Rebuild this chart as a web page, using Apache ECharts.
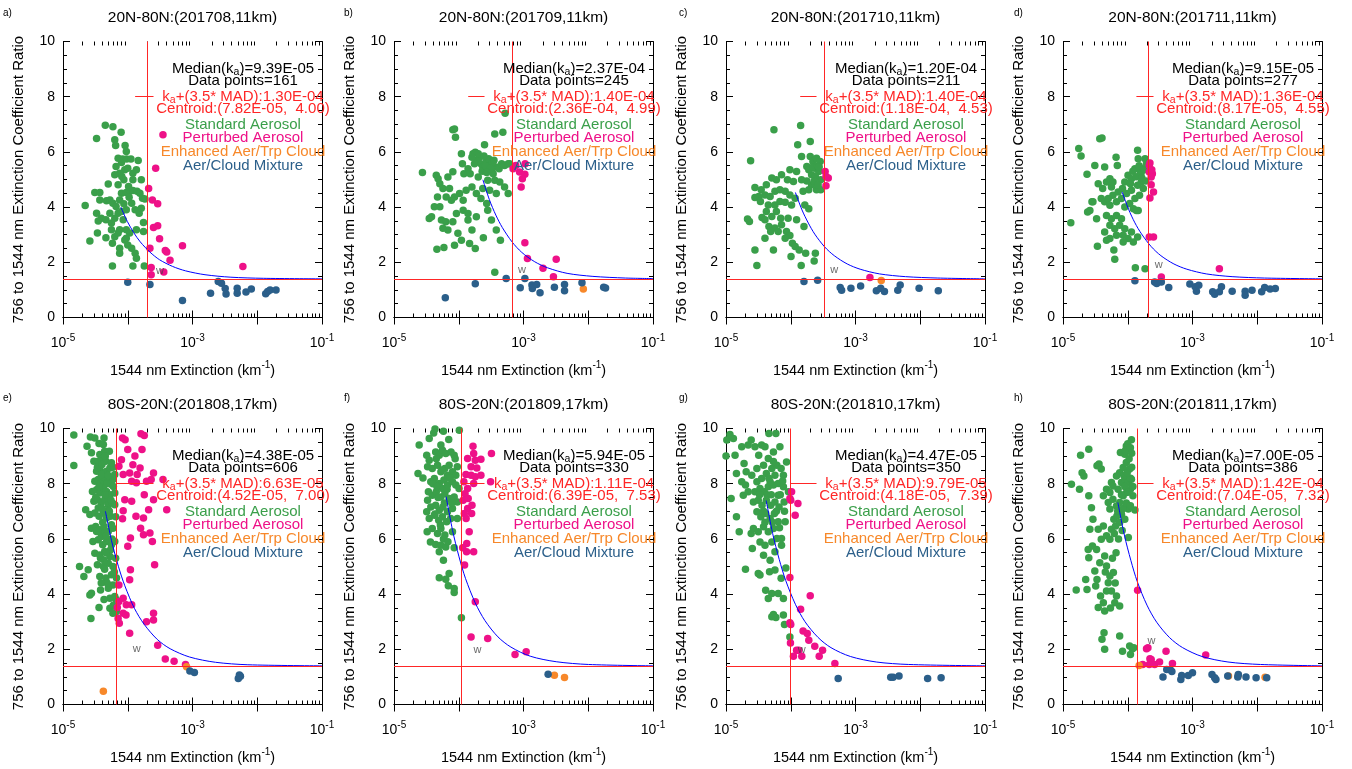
<!DOCTYPE html>
<html>
<head>
<meta charset="utf-8">
<script src="https://cdn.jsdelivr.net/npm/echarts@6/dist/echarts.min.js"></script>
<style>
  html, body { margin: 0; padding: 0; background: #fff; }
  #chart { width: 1352px; height: 769px; }
</style>
</head>
<body>
<div id="chart"></div>
<script>
// ---- panel texts ----
const panelLetters = ['a)', 'b)', 'c)', 'd)', 'e)', 'f)', 'g)', 'h)']
const titles = [
  '20N-80N:(201708,11km)', '20N-80N:(201709,11km)', '20N-80N:(201710,11km)', '20N-80N:(201711,11km)',
  '80S-20N:(201808,17km)', '80S-20N:(201809,17km)', '80S-20N:(201810,17km)', '80S-20N:(201811,17km)'
]
const medianTexts = ['9.39E-05', '2.37E-04', '1.20E-04', '9.15E-05', '4.38E-05', '5.94E-05', '4.47E-05', '7.00E-05']
const dataCounts = [161, 245, 211, 277, 606, 330, 350, 386]
const madTexts = ['1.30E-04', '1.40E-04', '1.40E-04', '1.36E-04', '6.63E-05', '1.11E-04', '9.79E-05', '1.42E-04']
const centroidX = ['7.82E-05', '2.36E-04', '1.18E-04', '8.17E-05', '4.52E-05', '6.39E-05', '4.18E-05', '7.04E-05']
const centroidY = ['4.00', '4.99', '4.53', '4.55', '7.00', '7.53', '7.39', '7.32']
const classNames = ['Standard Aerosol', 'Perturbed Aerosol', 'Enhanced Aer/Trp Cloud', 'Aer/Cloud Mixture']

// ---- reference lines ----
const kaValues = [1.30e-4, 1.40e-4, 1.40e-4, 1.36e-4, 6.63e-5, 1.11e-4, 9.79e-5, 1.42e-4]
const vLineX = [2.0e-4, 6.6e-4, 3.3e-4, 2.07e-4, 6.63e-5, 1.11e-4, 9.79e-5, 1.42e-4]
const hLineY = 1.4
const kaSegEnd = 2.5e-4
const kaSegY = 8
const wMarks = [[3.14e-4, 1.67], [9.5e-4, 1.74], [4.7e-4, 1.73], [3.0e-4, 1.89],
  [1.37e-4, 2.0], [1.95e-4, 1.99], [1.48e-4, 1.99], [2.33e-4, 2.30]]

// ---- axis ticks ----
const xMajorTicks = [1e-5, 1e-4, 1e-3, 1e-2, 1e-1]
const xLabelTicks = [1e-5, 1e-3, 1e-1]
const xMinorTicks = [2e-5, 3e-5, 4e-5, 5e-5, 6e-5, 7e-5, 8e-5, 9e-5,
  2e-4, 3e-4, 4e-4, 5e-4, 6e-4, 7e-4, 8e-4, 9e-4,
  2e-3, 3e-3, 4e-3, 5e-3, 6e-3, 7e-3, 8e-3, 9e-3,
  2e-2, 3e-2, 4e-2, 5e-2, 6e-2, 7e-2, 8e-2, 9e-2]

// ---- panel a ----
const stdA = [[4.5e-5,6.97],[5.9e-5,6.91],[3.3e-5,6.49],[6.3e-5,6.44],[7.9e-5,6.71],[6.5e-5,6.23],[9.1e-5,6.23],
  [7.1e-5,5.77],[8.0e-5,5.62],[8.3e-5,5.74],[9.6e-5,5.74],[1.12e-4,5.74],[1.45e-4,5.69],[6.6e-5,5.47],[9.0e-5,5.35],
  [1.0e-4,5.41],[1.2e-4,5.23],[1.36e-4,5.35],[1.62e-4,4.99],[5.0e-5,4.84],[7.1e-5,4.81],[8.7e-5,4.99],[1.2e-4,4.99],
  [7.5e-5,5.23],[8.0e-5,4.50],[9.5e-5,4.53],[1.07e-4,4.57],[1.2e-4,4.60],[1.39e-4,4.57],[1.54e-4,4.50],[1.69e-4,4.32],
  [1.84e-4,4.29],[3.1e-5,4.53],[3.7e-5,4.53],[2.2e-5,4.06],[3.7e-5,4.26],[4.7e-5,4.23],[5.3e-5,4.26],[5.9e-5,4.14],
  [6.6e-5,4.02],[7.1e-5,3.78],[8.0e-5,3.84],[9.5e-5,3.90],[1.15e-4,4.14],[1.3e-4,3.90],[1.5e-4,3.78],[1.62e-4,3.96],
  [3.3e-5,3.78],[3.9e-5,3.60],[3.5e-5,3.50],[4.6e-5,3.54],[5.6e-5,3.42],[6.3e-5,3.60],[8.5e-5,3.54],[7.5e-5,3.18],
  [5.6e-5,3.18],[6.3e-5,2.93],[9.5e-5,3.18],[1.07e-4,3.06],[1.36e-4,3.18],[1.75e-4,3.44],[1.75e-4,3.12],[2.6e-5,2.77],
  [3.4e-5,3.06],[4.6e-5,2.89],[5.8e-5,2.69],[7.5e-5,2.51],[9.0e-5,2.81],[1.0e-4,2.63],[1.15e-4,2.51],[1.3e-4,2.33],
  [1.36e-4,2.15],[7.5e-5,2.33],[5.8e-5,1.87],[1.2e-4,1.87],[1.8e-4,1.87],[9.5e-5,2.87],[7.1e-5,3.06],[5.3e-5,3.78],
  [8.7e-5,4.12],[7.5e-5,4.26],[1.05e-4,4.36],[1.03e-4,4.75],[8.1e-5,5.11],[6.3e-5,5.17],[9.5e-5,6.01]]
const pertA = [[3.5e-4,6.62],[2.7e-4,5.41],[2.1e-4,4.67],[2.4e-4,4.26],[2.9e-4,4.12],[2.5e-4,3.26],[2.9e-4,3.32],
  [3.1e-4,2.85],[2.2e-4,2.51],[3.8e-4,2.43],[4.0e-4,2.37],[4.5e-4,2.07],[7.0e-4,2.60],[2.3e-4,1.81],[2.3e-4,1.55],
  [3.6e-4,1.65],[6.0e-3,1.85]]
const enhA = []
const mixA = [[1.0e-4,1.28],[2.2e-4,1.20],[7.0e-4,0.62],[1.9e-3,0.88],[2.5e-3,1.30],[2.8e-3,1.24],[3.2e-3,1.05],
  [3.3e-3,0.85],[4.9e-3,1.06],[4.9e-3,0.88],[6.7e-3,0.92],[8.1e-3,1.03],[1.35e-2,0.86],[1.45e-2,0.94],[1.58e-2,1.00],
  [1.95e-2,1.00]]
const curveA = [[7.82e-5,4.00],[9.85e-5,3.48],[1.24e-4,3.07],[1.56e-4,2.74],[2.20e-4,2.37],[3.11e-4,2.09],[4.93e-4,1.85],
  [7.82e-4,1.69],[1.56e-3,1.55],[3.92e-3,1.46],[1.24e-2,1.42],[1e-1,1.40]]

// ---- panel b ----
const stdB = [[2.75e-5,5.25],[4.5e-5,5.15],[4.8e-5,5.03],[5.1e-5,4.85],[4.7e-5,4.37],[5.7e-5,4.67],[7.2e-5,4.67],
  [6.8e-5,5.09],[8.1e-5,5.28],[8.1e-5,6.80],[8.6e-5,6.83],[8.9e-5,6.53],[1.1e-4,5.93],[1.14e-4,5.57],[1.2e-4,5.21],
  [1.66e-4,5.93],[1.75e-4,5.57],[1.87e-4,5.69],[2.1e-4,5.81],[2.2e-4,5.57],[2.35e-4,5.45],[2.5e-4,6.26],[2.7e-4,5.69],
  [3.0e-4,5.57],[3.2e-4,5.33],[3.4e-4,5.21],[3.8e-4,5.45],[4.2e-4,5.39],[4.6e-4,5.57],[5.1e-4,5.51],[5.8e-4,5.57],
  [6.1e-4,5.57],[3.6e-4,6.65],[4.8e-4,6.71],[5.2e-4,7.40],[1.8e-4,5.99],[2.0e-4,5.93],[1.6e-4,5.81],[1.39e-4,5.39],
  [1.5e-4,5.21],[2.0e-4,5.09],[2.8e-4,4.97],[3.6e-4,4.97],[4.3e-4,4.91],[5.1e-4,4.73],[5.8e-4,4.49],[3.8e-4,4.49],
  [3.0e-4,4.61],[2.35e-4,4.67],[1.87e-4,4.49],[1.6e-4,4.73],[1.3e-4,4.61],[1.03e-4,4.49],[8.6e-5,4.37],[1.17e-4,4.25],
  [7.7e-5,4.25],[6.4e-5,4.37],[5.1e-5,4.01],[4.2e-5,4.01],[3.5e-5,3.59],[3.8e-5,3.65],[5.4e-5,3.53],[6.3e-5,3.47],
  [8.1e-5,3.47],[9.2e-5,3.77],[1.17e-4,3.89],[1.39e-4,3.77],[1.87e-4,3.65],[2.8e-4,3.89],[3.2e-4,3.53],[3.8e-4,3.17],
  [6.8e-5,3.17],[5.7e-5,3.23],[9.7e-5,3.05],[1.39e-4,3.53],[1.6e-4,3.17],[8.6e-5,2.62],[1.1e-4,2.80],[1.47e-4,2.68],
  [4.6e-5,2.47],[5.9e-5,2.54],[1.8e-4,2.50],[2.4e-4,2.89],[4.4e-4,2.80],[3.6e-4,1.64],[2.2e-4,4.31],[2.7e-4,4.13],
  [2.3e-4,5.30],[2.6e-4,5.50],[2.9e-4,5.75],[3.3e-4,5.60],[2.45e-4,5.85],[3.1e-4,5.40],[2.7e-4,5.25],[3.5e-4,5.70]]
const pertB = [[6.9e-4,5.39],[7.6e-4,5.51],[8.7e-4,5.27],[9.6e-4,5.03],[1.05e-3,5.19],[9.2e-4,4.73],[1.06e-3,5.57],
  [1.05e-3,2.71],[1.15e-3,2.14],[2.0e-3,1.78],[2.9e-3,1.48],[3.2e-3,2.11]]
const enhB = [[8.4e-3,1.03]]
const mixB = [[6.2e-5,0.72],[1.8e-4,1.22],[5.4e-4,1.41],[8.9e-4,1.08],[1.05e-3,1.41],[1.35e-3,1.18],[1.37e-3,1.05],
  [1.6e-3,1.20],[1.8e-3,0.90],[3.0e-3,1.10],[4.3e-3,1.20],[4.3e-3,0.97],[8.0e-3,1.26],[1.73e-2,1.10],[1.85e-2,1.07]]
const curveB = [[2.36e-4,4.99],[2.97e-4,4.27],[3.74e-4,3.71],[4.71e-4,3.26],[6.65e-4,2.74],[9.40e-4,2.36],[1.49e-3,2.02],
  [2.36e-3,1.80],[4.71e-3,1.60],[1.18e-2,1.49],[3.74e-2,1.43],[1e-1,1.41]]

// ---- panel c ----
const stdC = [[2.4e-5,5.68],[2.8e-5,4.71],[2.15e-5,3.57],[2.3e-5,3.48],[2.8e-5,2.45],[3.0e-5,1.88],[5.5e-5,6.80],
  [1.42e-4,6.96],[1.28e-4,6.26],[2.0e-4,6.38],[1.47e-4,5.83],[2.0e-4,5.83],[2.2e-4,5.65],[2.5e-4,5.77],[2.37e-4,5.41],
  [2.7e-4,5.29],[2.1e-4,5.17],[1.77e-4,5.47],[1.9e-4,5.35],[2.85e-4,5.65],[2.9e-4,4.99],[2.9e-4,4.63],[2.5e-4,4.63],
  [2.1e-4,4.81],[1.77e-4,4.95],[1.47e-4,4.99],[1.23e-4,5.29],[9.7e-5,5.35],[8.9e-5,4.99],[7.2e-5,5.17],[6.0e-5,4.99],
  [5.1e-5,5.05],[4.2e-5,4.81],[3.5e-5,4.63],[4.0e-5,4.44],[3.2e-5,4.38],[2.8e-5,4.35],[4.8e-5,4.38],[5.7e-5,4.57],
  [6.8e-5,4.63],[8.2e-5,4.57],[9.7e-5,4.44],[1.17e-4,4.32],[1.55e-4,4.57],[1.9e-4,4.63],[3.4e-5,4.20],[4.5e-5,4.08],
  [5.7e-5,4.08],[6.8e-5,4.20],[8.2e-5,4.18],[1.03e-4,4.08],[6.0e-5,3.84],[4.2e-5,3.84],[3.6e-5,3.62],[5.1e-5,3.66],
  [7.0e-5,3.60],[9.1e-5,3.60],[1.23e-4,3.54],[4.6e-5,3.30],[5.7e-5,3.24],[7.2e-5,3.36],[8.6e-5,3.12],[9.7e-5,2.97],
  [6.4e-5,3.12],[4.0e-5,2.87],[4.9e-5,3.12],[8.2e-5,2.87],[1.06e-4,2.69],[1.17e-4,2.57],[1.35e-4,2.45],[1.01e-4,2.21],
  [1.6e-4,3.30],[1.9e-4,3.94],[1.7e-4,2.33],[2.3e-4,2.05],[2.4e-4,2.33],[1.45e-4,1.88],[5.4e-5,2.45],[4.0e-5,3.54],
  [1.1e-4,4.93],[1.65e-4,4.08],[2.2e-4,5.45],[2.6e-4,5.50],[2.4e-4,5.10],[2.75e-4,5.45],[2.3e-4,4.95],[2.65e-4,4.80]]
const pertC = [[3.4e-4,5.29],[3.5e-4,5.11],[3.5e-4,4.77],[3.8e-4,5.05],[1.67e-3,1.45]]
const enhC = [[2.5e-3,1.34]]
const mixC = [[1.6e-4,1.30],[2.6e-4,1.35],[5.8e-4,1.09],[6.1e-4,0.99],[8.5e-4,1.06],[1.2e-3,1.14],[2.1e-3,0.97],
  [2.45e-3,1.06],[2.8e-3,0.94],[4.5e-3,0.99],[4.9e-3,1.18],[9.6e-3,1.06],[1.9e-2,0.97]]
const curveC = [[1.18e-4,4.53],[1.49e-4,3.90],[1.87e-4,3.42],[2.35e-4,3.02],[3.33e-4,2.56],[4.70e-4,2.24],[7.45e-4,1.94],
  [1.18e-3,1.75],[2.35e-3,1.58],[5.91e-3,1.48],[1.87e-2,1.43],[1e-1,1.40]]

// ---- panel d ----
const stdD = [[1.32e-5,3.43],[1.75e-5,6.12],[1.9e-5,5.85],[2.35e-5,5.19],[2.4e-5,3.82],[2.6e-5,3.88],[2.8e-5,4.19],
  [3.3e-5,3.58],[3.4e-5,2.58],[3.7e-5,6.48],[4.0e-5,6.50],[3.5e-5,4.85],[4.1e-5,4.67],[4.4e-5,5.45],[4.7e-5,4.91],
  [5.3e-5,5.03],[5.6e-5,4.73],[5.9e-5,4.91],[6.6e-5,5.81],[6.9e-5,5.51],[3.9e-5,4.31],[4.4e-5,4.19],[5.0e-5,4.31],
  [5.9e-5,4.43],[7.1e-5,4.55],[8.3e-5,4.67],[9.0e-5,4.91],[1.01e-4,5.15],[1.14e-4,5.03],[1.29e-4,5.39],[1.42e-4,6.06],
  [1.45e-4,5.75],[1.58e-4,5.27],[1.74e-4,5.39],[1.85e-4,5.75],[1.62e-4,4.91],[1.42e-4,4.79],[1.14e-4,4.61],[9.6e-5,4.49],
  [8.0e-5,4.31],[6.7e-5,4.19],[5.3e-5,4.07],[9.0e-5,4.00],[1.07e-4,4.13],[1.29e-4,4.31],[1.52e-4,4.43],[1.74e-4,4.67],
  [1.22e-4,3.94],[1.45e-4,3.88],[4.7e-5,3.70],[5.6e-5,3.58],[6.7e-5,3.70],[8.0e-5,3.58],[5.3e-5,3.34],[6.3e-5,3.22],
  [7.5e-5,3.34],[9.0e-5,3.22],[4.4e-5,3.10],[5.3e-5,2.86],[4.7e-5,2.80],[6.7e-5,2.98],[8.5e-5,2.98],[1.01e-4,2.86],
  [1.14e-4,3.10],[1.22e-4,2.74],[1.42e-4,2.92],[8.5e-5,2.74],[6.1e-5,2.45],[6.3e-5,2.11],[1.31e-4,1.80],[1.85e-4,1.77],
  [1.36e-4,3.88],[1.6e-4,5.21],[3.1e-5,5.51],[2.9e-5,4.19],[1.2e-4,5.30],[1.35e-4,5.10],[1.5e-4,5.50],[1.65e-4,5.05],
  [1.8e-4,5.35],[1.95e-4,5.60],[1.1e-4,4.85],[1.9e-4,4.95]]
const pertD = [[2.15e-4,5.51],[2.15e-4,5.27],[2.4e-4,5.21],[2.3e-4,5.09],[2.3e-4,4.81],[2.2e-4,4.33],[2.5e-4,4.55],
  [2.15e-4,2.92],[2.5e-4,2.92],[3.3e-4,1.47],[2.6e-3,1.77],[2.2e-4,5.60],[2.35e-4,5.35]]
const enhD = []
const mixD = [[1.29e-4,1.33],[2.6e-4,1.29],[2.8e-4,1.23],[3.3e-4,1.29],[4.3e-4,1.09],[9.1e-4,1.21],[1.1e-3,1.11],
  [1.15e-3,0.95],[1.25e-3,1.17],[2.05e-3,0.93],[2.2e-3,0.84],[2.6e-3,0.93],[2.8e-3,1.11],[4.1e-3,0.95],[6.5e-3,0.95],
  [6.5e-3,0.81],[8.3e-3,0.99],[1.17e-2,0.93],[1.3e-2,1.09],[1.58e-2,1.03],[1.9e-2,1.05]]
const curveD = [[8.17e-5,4.55],[1.03e-4,3.92],[1.29e-4,3.43],[1.63e-4,3.03],[2.30e-4,2.57],[3.25e-4,2.24],[5.16e-4,1.94],
  [8.17e-4,1.75],[1.63e-3,1.58],[4.09e-3,1.48],[1.29e-2,1.43],[1e-1,1.40]]

// ---- panel e ----
const stdE = [[1.47e-5,9.76],[1.47e-5,8.66],[1.8e-5,5.00],[2.1e-5,4.64],[2.45e-5,4.88],[2.24e-5,7.06],[2.65e-5,9.69],
  [2.35e-5,9.36],[2.75e-5,9.12],[3.1e-5,9.66],[3.6e-5,9.46],[4.3e-5,9.66],[3.0e-5,8.81],[3.7e-5,9.06],[4.2e-5,8.93],
  [4.6e-5,8.81],[3.3e-5,8.45],[3.7e-5,8.57],[4.2e-5,8.39],[4.7e-5,8.45],[5.3e-5,8.57],[5.9e-5,8.60],[3.1e-5,8.09],
  [3.5e-5,8.15],[3.9e-5,8.03],[4.4e-5,8.21],[5.0e-5,8.09],[5.6e-5,7.97],[5.9e-5,8.15],[2.85e-5,7.72],[3.3e-5,7.78],
  [3.7e-5,7.66],[4.2e-5,7.85],[4.7e-5,7.72],[5.3e-5,7.60],[6.3e-5,7.66],[3.0e-5,7.36],[3.4e-5,7.42],[3.9e-5,7.30],
  [4.4e-5,7.42],[5.0e-5,7.24],[5.8e-5,7.30],[2.6e-5,6.88],[3.1e-5,6.94],[3.6e-5,6.82],[4.2e-5,6.94],[4.7e-5,6.76],
  [5.4e-5,6.82],[2.75e-5,6.39],[3.2e-5,6.45],[3.7e-5,6.33],[4.3e-5,6.45],[5.0e-5,6.27],[5.9e-5,6.39],[2.9e-5,5.91],
  [3.5e-5,5.97],[4.1e-5,5.79],[4.7e-5,5.91],[5.6e-5,5.79],[3.1e-5,5.48],[3.7e-5,5.42],[4.4e-5,5.54],[5.3e-5,5.36],
  [3.4e-5,5.06],[4.2e-5,5.00],[5.0e-5,5.12],[5.9e-5,5.00],[3.7e-5,4.64],[4.6e-5,4.58],[5.6e-5,4.70],[2.75e-5,4.03],
  [2.6e-5,3.97],[3.8e-5,4.15],[5.0e-5,4.21],[5.9e-5,4.33],[5.3e-5,3.85],[6.3e-5,3.91],[3.6e-5,3.51],[5.3e-5,3.49],
  [5.9e-5,3.31],[6.7e-5,3.37],[2.7e-5,3.12],[4.2e-5,9.42],[5.2e-5,9.18],[5.6e-5,8.76],[6.3e-5,8.33],[6.3e-5,7.24],
  [6.3e-5,5.91],[6.5e-5,5.30],[6.7e-5,4.58],[3.9e-5,6.09],[4.4e-5,6.27],[3.3e-5,6.27],[3.5e-5,7.12],[3.9e-5,8.33],
  [3.5e-5,8.81],[4.4e-5,9.18],[4.8e-5,4.40],[4.3e-5,5.24],[5.0e-5,5.97],[5.6e-5,6.51],[5.0e-5,7.06],
  [3.2e-5,7.50],[3.6e-5,7.90],[4.0e-5,7.10],[4.5e-5,7.60],[4.8e-5,8.00],[5.2e-5,7.00],[5.5e-5,7.40],[4.1e-5,6.60],
  [4.6e-5,6.10],[5.4e-5,5.60],[3.8e-5,5.30],[4.6e-5,5.50],[5.7e-5,6.00],[3.4e-5,8.60],[4.0e-5,8.70],[4.5e-5,9.00],
  [5.0e-5,8.30],[6.0e-5,7.90],[6.5e-5,6.80],[6.2e-5,4.80],[6.6e-5,3.80],[6.0e-5,3.60],[4.3e-5,3.80],[3.9e-5,4.40],
  [4.4e-5,4.90]]
const pertE = [[8.3e-5,9.66],[9.1e-5,9.59],[1.6e-4,9.81],[1.8e-4,9.75],[1.0e-4,9.24],[7.3e-5,8.63],[8.0e-5,8.87],
  [1.29e-4,9.00],[1.66e-4,9.24],[1.2e-4,8.69],[1.55e-4,8.57],[8.5e-5,8.33],[1.07e-4,8.39],[1.4e-4,8.33],[2.5e-4,8.39],
  [2.3e-4,8.15],[1.95e-4,8.09],[1.15e-4,8.09],[1.36e-4,8.03],[3.5e-4,8.15],[1.8e-4,7.60],[2.5e-4,7.42],[4.0e-4,7.06],
  [9.0e-5,7.42],[8.5e-5,7.02],[1.15e-4,7.36],[8.3e-5,6.73],[1.34e-4,6.82],[1.75e-4,6.76],[2.1e-4,7.06],[1.58e-4,6.39],
  [1.75e-4,6.15],[2.2e-4,6.21],[2.4e-4,5.91],[1.1e-4,6.03],[1.0e-4,5.73],[1.1e-4,4.88],[1.07e-4,4.52],[2.6e-4,5.06],
  [7.3e-5,4.33],[7.3e-5,3.73],[8.5e-5,3.85],[9.5e-5,3.61],[8.5e-5,3.31],[6.9e-5,3.51],[1.15e-4,3.61],[9.4e-5,3.24],
  [7.1e-5,3.12],[7.4e-5,2.94],[1.07e-4,2.58],[1.95e-4,3.00],[2.5e-4,3.31],[2.5e-4,3.06],[2.9e-4,2.15],[3.8e-4,1.65],
  [5.2e-4,1.57],[7.8e-4,1.45]]
const enhE = [[4.2e-5,0.48],[8.1e-4,1.37]]
const mixE = [[9.1e-4,1.21],[1.07e-3,1.16],[5.1e-3,0.94],[5.3e-3,1.07],[5.5e-3,1.02]]
const curveE = [[4.52e-5,7.00],[5.69e-5,5.88],[7.16e-5,5.01],[9.02e-5,4.30],[1.27e-4,3.48],[1.80e-4,2.90],[2.85e-4,2.36],
  [4.52e-4,2.02],[9.02e-4,1.72],[2.26e-3,1.53],[7.16e-3,1.44],[1e-1,1.40]]

// ---- panel f ----
const stdF = [[2.45e-5,9.40],[2.35e-5,8.37],[2.8e-5,8.21],[3.5e-5,9.64],[4.1e-5,9.84],[4.3e-5,9.98],[5.8e-5,9.90],
  [1.02e-4,9.94],[3.2e-5,9.03],[3.5e-5,8.85],[4.4e-5,9.15],[5.0e-5,9.03],[5.6e-5,9.21],[6.3e-5,9.09],[7.6e-5,9.15],
  [8.5e-5,9.03],[9.5e-5,8.61],[3.3e-5,8.61],[3.9e-5,8.55],[4.7e-5,8.67],[5.3e-5,8.43],[6.1e-5,8.55],[7.1e-5,8.67],
  [8.0e-5,8.43],[3.7e-5,8.07],[4.2e-5,8.19],[5.0e-5,8.01],[5.9e-5,8.13],[6.7e-5,7.95],[8.0e-5,8.07],[9.0e-5,7.95],
  [3.4e-5,7.71],[3.9e-5,7.58],[4.5e-5,7.71],[5.3e-5,7.52],[6.1e-5,7.64],[7.1e-5,7.46],[8.5e-5,7.52],[9.5e-5,7.34],
  [3.3e-5,7.40],[3.7e-5,7.16],[4.4e-5,7.22],[5.0e-5,7.04],[5.7e-5,7.16],[6.7e-5,6.98],[8.0e-5,7.10],[3.5e-5,6.74],
  [4.2e-5,6.86],[4.9e-5,6.68],[5.6e-5,6.80],[6.5e-5,6.62],[7.5e-5,6.74],[3.25e-5,6.26],[3.9e-5,6.38],[4.7e-5,6.20],
  [5.3e-5,6.38],[6.1e-5,6.14],[8.0e-5,6.26],[3.65e-5,5.89],[4.4e-5,5.80],[5.0e-5,5.53],[5.3e-5,5.77],[6.3e-5,5.71],
  [8.5e-5,5.68],[5.8e-5,5.23],[5.0e-5,4.59],[6.3e-5,4.54],[6.9e-5,4.30],[7.1e-5,4.75],[8.5e-5,4.20],[8.5e-5,4.06],
  [1.1e-4,3.14],[3.2e-5,6.98],[9.0e-5,8.31],[5.6e-5,7.83],[6.7e-5,8.31],[9.5e-5,6.74],[1.01e-4,7.83],
  [4.0e-5,8.00],[4.6e-5,7.90],[5.5e-5,8.50],[6.0e-5,7.30],[4.8e-5,7.50],[4.3e-5,6.90],[5.2e-5,6.50],[6.6e-5,7.80],
  [7.3e-5,8.20],[7.8e-5,7.30],[5.8e-5,6.00],[6.8e-5,5.90],[4.5e-5,8.90],[5.3e-5,9.40],[7.0e-5,9.60],[8.8e-5,8.90]]
const pertF = [[1.66e-4,9.36],[3.2e-4,9.09],[1.7e-4,9.09],[1.37e-4,8.91],[1.8e-4,8.85],[2.2e-4,8.89],[1.55e-4,8.61],
  [1.9e-4,8.57],[1.29e-4,8.33],[1.55e-4,8.31],[1.8e-4,8.25],[2.2e-4,8.31],[3.1e-4,8.07],[1.7e-4,8.01],[1.2e-4,8.07],
  [1.37e-4,7.83],[1.25e-4,7.64],[1.17e-4,7.40],[1.4e-4,7.46],[1.37e-4,7.10],[1.58e-4,6.92],[1.22e-4,6.92],[1.6e-4,7.22],
  [1.3e-4,6.74],[1.45e-4,6.26],[1.33e-4,5.83],[1.7e-4,5.53],[1.32e-4,5.53],[1.15e-4,5.68],[1.23e-4,5.05],[1.8e-4,3.72],
  [1.55e-4,2.45],[2.8e-4,2.39],[7.4e-4,1.81],[1.1e-3,1.91]]
const enhF = [[3.0e-3,1.06],[4.3e-3,0.98]]
const mixF = [[2.4e-3,1.10]]
const curveF = [[6.39e-5,7.53],[8.04e-5,6.30],[1.01e-4,5.35],[1.27e-4,4.57],[1.80e-4,3.68],[2.54e-4,3.04],[4.03e-4,2.45],
  [6.39e-4,2.08],[1.27e-3,1.75],[3.20e-3,1.55],[1.01e-2,1.45],[1e-1,1.40]]

// ---- panel g ----
const stdG = [[1.0e-5,9.00],[1.03e-5,9.58],[1.15e-5,9.78],[1.3e-5,9.64],[1.2e-5,7.46],[1.45e-5,8.37],[1.38e-5,9.03],
  [1.45e-5,6.80],[1.6e-5,6.26],[1.75e-5,9.34],[1.9e-5,8.73],[2.0e-5,4.90],[2.05e-5,8.43],[2.2e-5,9.40],[2.45e-5,9.58],
  [1.75e-5,8.07],[2.0e-5,7.95],[1.85e-5,7.58],[2.2e-5,7.71],[2.55e-5,5.65],[2.45e-5,6.20],[2.8e-5,9.34],[3.2e-5,9.03],
  [3.55e-5,9.40],[4.0e-5,9.34],[4.6e-5,9.82],[5.9e-5,9.82],[6.8e-5,9.34],[5.4e-5,9.15],[4.5e-5,8.91],[3.8e-5,8.67],
  [3.0e-5,8.55],[2.5e-5,8.31],[3.0e-5,8.07],[3.55e-5,8.19],[4.2e-5,8.37],[5.1e-5,8.55],[6.1e-5,8.67],[7.1e-5,8.55],
  [7.7e-5,8.31],[8.6e-5,8.79],[2.8e-5,7.71],[3.35e-5,7.83],[3.9e-5,7.71],[4.5e-5,7.89],[5.4e-5,7.95],[6.4e-5,8.01],
  [7.7e-5,7.89],[2.65e-5,7.34],[3.15e-5,7.40],[3.6e-5,7.22],[4.2e-5,7.40],[4.9e-5,7.22],[5.7e-5,7.34],[6.6e-5,7.16],
  [7.9e-5,7.34],[9.2e-5,7.71],[3.0e-5,6.98],[3.45e-5,6.80],[4.1e-5,6.92],[4.8e-5,6.74],[5.6e-5,6.92],[6.4e-5,6.62],
  [2.65e-5,6.38],[3.15e-5,6.26],[3.8e-5,6.44],[4.5e-5,6.26],[5.4e-5,6.38],[6.1e-5,6.01],[3.35e-5,5.89],[4.0e-5,5.77],
  [5.1e-5,5.89],[5.7e-5,5.53],[7.2e-5,5.77],[3.8e-5,5.41],[4.8e-5,5.23],[3.15e-5,4.75],[3.35e-5,4.69],[4.7e-5,4.81],
  [5.7e-5,4.87],[7.1e-5,4.57],[8.4e-5,4.95],[4.1e-5,4.14],[5.1e-5,4.02],[6.4e-5,4.02],[7.7e-5,3.84],[4.5e-5,3.84],
  [5.1e-5,3.18],[5.4e-5,3.26],[5.9e-5,3.15],[7.7e-5,3.24],[8.0e-5,2.90],[9.7e-5,2.45],[7.2e-5,6.01],[8.2e-5,6.62],
  [6.4e-5,7.58],[5.7e-5,8.31],[4.8e-5,8.07],
  [3.3e-5,7.60],[3.8e-5,7.00],[4.3e-5,7.60],[5.0e-5,7.60],[4.6e-5,8.20],[5.4e-5,8.80],[6.0e-5,7.00],[6.9e-5,7.60],
  [4.0e-5,6.60],[5.2e-5,6.60],[6.7e-5,6.40],[7.5e-5,8.10],[8.0e-5,7.00]]
const pertG = [[1.03e-4,7.71],[9.7e-5,7.46],[1.0e-4,7.40],[1.29e-4,7.28],[1.17e-4,6.86],[9.7e-5,4.60],[2.0e-4,3.94],
  [1.42e-4,3.45],[9.7e-5,2.96],[1.0e-4,2.90],[1.55e-4,2.66],[1.8e-4,2.57],[1.9e-4,2.33],[9.9e-5,2.23],[1.23e-4,1.97],
  [1.33e-4,1.97],[1.1e-4,1.75],[1.48e-4,1.75],[2.35e-4,2.11],[2.75e-4,1.75],[3.1e-4,1.97],[4.8e-4,1.49]]
const enhG = []
const mixG = [[5.4e-4,0.94],[3.5e-3,0.99],[3.8e-3,0.99],[4.7e-3,1.03],[1.3e-2,0.94],[2.1e-2,0.97]]
const curveG = [[4.18e-5,7.39],[5.26e-5,6.19],[6.63e-5,5.26],[8.34e-5,4.50],[1.18e-4,3.63],[1.66e-4,3.00],[2.64e-4,2.43],
  [4.18e-4,2.06],[8.34e-4,1.74],[2.09e-3,1.54],[6.63e-3,1.45],[1e-1,1.40]]

// ---- panel h ----
const stdH = [[1.35e-5,7.98],[1.6e-5,4.15],[1.8e-5,7.80],[1.87e-5,9.03],[2.5e-5,9.25],[1.97e-5,8.40],[2.1e-5,8.28],
  [2.24e-5,4.53],[2.35e-5,4.17],[2.5e-5,7.56],[2.75e-5,7.13],[2.9e-5,6.71],[2.6e-5,6.35],[2.45e-5,5.62],[2.5e-5,5.32],
  [2.85e-5,5.74],[3.3e-5,5.62],[3.35e-5,8.65],[3.6e-5,8.71],[3.9e-5,8.53],[3.1e-5,4.84],[3.35e-5,4.53],[3.5e-5,3.51],
  [3.2e-5,4.29],[3.8e-5,3.93],[4.2e-5,3.69],[4.4e-5,3.39],[4.0e-5,2.36],[4.3e-5,2.60],[4.4e-5,2.00],[3.7e-5,5.14],
  [4.4e-5,5.38],[4.7e-5,5.02],[5.3e-5,4.66],[6.0e-5,4.78],[5.0e-5,4.41],[5.6e-5,4.11],[4.7e-5,4.11],[6.3e-5,3.69],
  [6.7e-5,3.93],[7.5e-5,3.57],[7.5e-5,2.48],[8.3e-5,1.93],[1.07e-4,2.12],[1.18e-4,2.02],[1.24e-4,2.06],[1.1e-4,1.81],
  [1.29e-4,7.05],[3.5e-5,6.35],[4.2e-5,6.47],[3.9e-5,5.99],[4.7e-5,6.11],[5.3e-5,5.99],[5.6e-5,6.35],[6.1e-5,6.71],
  [6.5e-5,6.47],[6.8e-5,6.83],[7.5e-5,6.59],[8.0e-5,6.89],[9.0e-5,6.71],[1.02e-4,6.05],[1.02e-4,7.08],[5.3e-5,7.08],
  [5.0e-5,7.32],[5.9e-5,7.44],[6.7e-5,7.19],[7.5e-5,7.32],[8.5e-5,7.56],[9.6e-5,7.68],[1.1e-4,7.80],[1.2e-4,7.56],
  [7.1e-5,7.80],[8.0e-5,8.04],[9.0e-5,8.16],[1.02e-4,8.04],[1.14e-4,8.16],[7.5e-5,8.40],[8.5e-5,8.59],[9.5e-5,8.77],
  [1.07e-4,8.53],[7.7e-5,9.13],[9.0e-5,9.07],[9.5e-5,9.37],[6.7e-5,8.28],[5.6e-5,8.04],[4.7e-5,7.80],[4.2e-5,7.56],
  [5.3e-5,7.68],[5.9e-5,7.92],[1.14e-4,9.59],[1.0e-4,9.45],[9.2e-5,9.20],[1.1e-4,9.30],
  [8.0e-5,7.60],[9.0e-5,7.90],[1.0e-4,7.70],[1.1e-4,8.20],[1.15e-4,8.60],[1.2e-4,7.90],[8.7e-5,8.30],[9.8e-5,8.40],
  [1.05e-4,8.90],[1.15e-4,9.10],[8.5e-5,7.10],[9.5e-5,7.30],[1.1e-4,7.20],[7.0e-5,7.00],[6.2e-5,6.20],[7.2e-5,6.00],
  [8.2e-5,6.30],[6.6e-5,5.50],[5.8e-5,5.30],[6.4e-5,4.40],[5.4e-5,3.50],[4.5e-5,4.80]]
const pertH = [[1.42e-4,4.14],[1.95e-4,2.02],[2.05e-4,2.06],[2.2e-4,1.66],[2.3e-4,1.63],[2.15e-4,1.45],[1.7e-4,1.45],
  [2.6e-4,1.45],[3.1e-4,1.54],[3.9e-4,1.93],[4.9e-4,1.49],[1.6e-3,1.79]]
const enhH = [[1.5e-4,1.41],[3.6e-3,1.03],[5.1e-3,1.06],[1.32e-2,0.99]]
const mixH = [[3.5e-4,1.00],[4.0e-4,1.27],[4.5e-4,1.27],[4.8e-4,1.20],[6.6e-4,0.91],[6.8e-4,1.05],[8.6e-4,1.05],
  [1.0e-3,1.15],[2.0e-3,1.09],[2.2e-3,0.97],[2.3e-3,0.91],[3.5e-3,1.03],[5.0e-3,1.00],[5.1e-3,1.09],[6.7e-3,1.00],
  [9.6e-3,0.97],[1.4e-2,0.97]]
const curveH = [[7.04e-5,7.32],[8.86e-5,6.14],[1.12e-4,5.21],[1.40e-4,4.46],[1.98e-4,3.60],[2.80e-4,2.98],[4.44e-4,2.42],
  [7.04e-4,2.06],[1.40e-3,1.74],[3.53e-3,1.54],[1.12e-2,1.45],[1e-1,1.40]]

const panels = [
  { std: stdA, pert: pertA, enh: enhA, mix: mixA, curve: curveA },
  { std: stdB, pert: pertB, enh: enhB, mix: mixB, curve: curveB },
  { std: stdC, pert: pertC, enh: enhC, mix: mixC, curve: curveC },
  { std: stdD, pert: pertD, enh: enhD, mix: mixD, curve: curveD },
  { std: stdE, pert: pertE, enh: enhE, mix: mixE, curve: curveE },
  { std: stdF, pert: pertF, enh: enhF, mix: mixF, curve: curveF },
  { std: stdG, pert: pertG, enh: enhG, mix: mixG, curve: curveG },
  { std: stdH, pert: pertH, enh: enhH, mix: mixH, curve: curveH }
]

// ---- style ----
const FONT = "'Liberation Sans', Arial, Helvetica, sans-serif"
const GREEN = '#3a9f4a'
const PINK = '#ee1188'
const ORANGE = '#f7882a'
const BLUE = '#2b5f8a'
const RED = '#ff2626'
const classColors = [GREEN, PINK, ORANGE, BLUE]

const gridLeft = [63, 394, 726, 1063]
const gridTop = [41.5, 428.5]
const gridW = 259
const gridH = 276
const letterX = [3, 344, 679, 1014]
const letterY = [13, 398]
const annOffsets = [27.5, 39.5, 55, 67, 83.5, 96, 110, 124]

const supRich = {
  b: { fontSize: 14, color: '#000', fontFamily: FONT, lineHeight: 20 },
  n: { fontSize: 14.5, color: '#000', fontFamily: FONT, lineHeight: 20 },
  s: { fontSize: 10, color: '#000', fontFamily: FONT, verticalAlign: 'top', lineHeight: 12 }
}
const lineBlack = { lineStyle: { color: '#000', width: 1 } }

const richFor = c => ({
  n: { fontSize: 15, fontFamily: FONT, fill: c, lineHeight: 18 },
  s: { fontSize: 10.5, fontFamily: FONT, fill: c, verticalAlign: 'bottom' }
})

const grid = []
const xAxis = []
const yAxis = []
const series = []
const graphic = []

panels.forEach((p, i) => {
  const left = gridLeft[i % 4]
  const top = gridTop[Math.floor(i / 4)]
  const g = 2 * i
  grid.push({ left, top, width: gridW, height: gridH }, { left, top, width: gridW, height: gridH })

  const xBase = { type: 'log', logBase: 10, min: 1e-5, max: 1e-1, splitLine: { show: false } }
  xAxis.push(
    {
      ...xBase, gridIndex: g, position: 'bottom',
      axisLine: lineBlack,
      axisTick: { inside: true, length: 7, customValues: xMajorTicks, lineStyle: { color: '#000' } },
      axisLabel: {
        customValues: xLabelTicks, margin: 16,
        formatter: v => '{b|10}{s|' + Math.round(Math.log10(v)) + '}',
        rich: supRich
      },
      name: '{n|1544 nm Extinction (km}{s|-1}{n|)}',
      nameLocation: 'middle', nameGap: 43,
      nameTextStyle: { rich: supRich }
    },
    {
      ...xBase, gridIndex: g, position: 'top',
      axisLine: lineBlack,
      axisTick: { inside: true, length: 7, customValues: xMajorTicks, lineStyle: { color: '#000' } },
      axisLabel: { show: false }
    },
    {
      ...xBase, gridIndex: g + 1, position: 'bottom',
      axisLine: { show: false },
      axisTick: { inside: true, length: 4, customValues: xMinorTicks, lineStyle: { color: '#000' } },
      axisLabel: { show: false }
    },
    {
      ...xBase, gridIndex: g + 1, position: 'top',
      axisLine: { show: false },
      axisTick: { inside: true, length: 4, customValues: xMinorTicks, lineStyle: { color: '#000' } },
      axisLabel: { show: false }
    }
  )

  const yBase = {
    type: 'value', min: 0, max: 10, interval: 2, splitLine: { show: false },
    axisLine: lineBlack,
    axisTick: { inside: true, length: 7, lineStyle: { color: '#000' } },
    minorTick: { show: true, splitNumber: 4, length: 4, lineStyle: { color: '#000' } }
  }
  yAxis.push(
    {
      ...yBase, gridIndex: g, position: 'left',
      axisLabel: { fontSize: 14, color: '#000', fontFamily: FONT, margin: 8 },
      name: '756 to 1544 nm Extinction Coefficient Ratio',
      nameLocation: 'middle', nameGap: 37,
      nameTextStyle: { fontSize: 15, color: '#000', fontFamily: FONT }
    },
    { ...yBase, gridIndex: g, position: 'right', axisLabel: { show: false } },
    { type: 'value', gridIndex: g + 1, min: 0, max: 10, show: false }
  )

  const xi = 4 * i
  const yi = 3 * i
  // red reference lines
  series.push({
    type: 'line', xAxisIndex: xi, yAxisIndex: yi, data: [], z: 1, silent: true,
    markLine: {
      symbol: 'none', silent: true, animation: false, label: { show: false },
      lineStyle: { color: RED, width: 1, type: 'solid' },
      emphasis: { disabled: true },
      data: [
        [{ coord: [1e-5, hLineY] }, { coord: [1e-1, hLineY] }],
        [{ coord: [vLineX[i], 0] }, { coord: [vLineX[i], 10] }],
        [{ coord: [kaValues[i], kaSegY] }, { coord: [kaSegEnd, kaSegY] }]
      ]
    }
  })
  const groups = [p.std, p.pert, p.enh, p.mix]
  groups.forEach((d, k) => {
    series.push({
      type: 'scatter', xAxisIndex: xi, yAxisIndex: yi, data: d, z: 3, silent: true,
      symbolSize: 7.5, itemStyle: { color: classColors[k], opacity: 1 }
    })
  })
  series.push({
    type: 'line', xAxisIndex: xi, yAxisIndex: yi, data: p.curve, z: 4, silent: true,
    showSymbol: false, smooth: 0.3, lineStyle: { color: '#0000ff', width: 1 }
  })
  series.push({
    type: 'scatter', xAxisIndex: xi, yAxisIndex: yi, data: [wMarks[i]], z: 5, silent: true,
    symbolSize: 0,
    label: { show: true, position: 'inside', formatter: 'w', color: '#444', fontSize: 11, fontFamily: FONT }
  })

  // titles and letters
  graphic.push({
    type: 'text', x: left + gridW / 2, y: top - 23.5, silent: true,
    style: { text: titles[i], fontSize: 15.5, fontFamily: FONT, fill: '#000', align: 'center', verticalAlign: 'middle' }
  })
  graphic.push({
    type: 'text', x: letterX[i % 4], y: letterY[Math.floor(i / 4)], silent: true,
    style: { text: panelLetters[i], fontSize: 10, fontFamily: FONT, fill: '#000', align: 'left', verticalAlign: 'middle' }
  })

  // annotation block
  const lines = [
    ['{n|Median(k}{s|a}{n|)=' + medianTexts[i] + '}', '#000'],
    ['{n|Data points=' + dataCounts[i] + '}', '#000'],
    ['{n|k}{s|a}{n|+(3.5* MAD):' + madTexts[i] + '}', RED],
    ['{n|Centroid:(' + centroidX[i] + ',  ' + centroidY[i] + ')}', RED],
    ['{n|' + classNames[0] + '}', GREEN],
    ['{n|' + classNames[1] + '}', PINK],
    ['{n|' + classNames[2] + '}', ORANGE],
    ['{n|' + classNames[3] + '}', BLUE]
  ]
  lines.forEach((ln, k) => {
    graphic.push({
      type: 'text', x: left + 180, y: top + annOffsets[k], silent: true, z: 10,
      style: {
        text: ln[0], rich: richFor(ln[1]), fill: ln[1], fontSize: 15, fontFamily: FONT,
        align: 'center', verticalAlign: 'middle'
      }
    })
  })
})

const chart = echarts.init(document.getElementById('chart'), null, { renderer: 'canvas' })
chart.setOption({
  animation: false,
  backgroundColor: '#fff',
  textStyle: { fontFamily: FONT },
  grid,
  xAxis,
  yAxis,
  series,
  graphic
})
</script>
</body>
</html>
